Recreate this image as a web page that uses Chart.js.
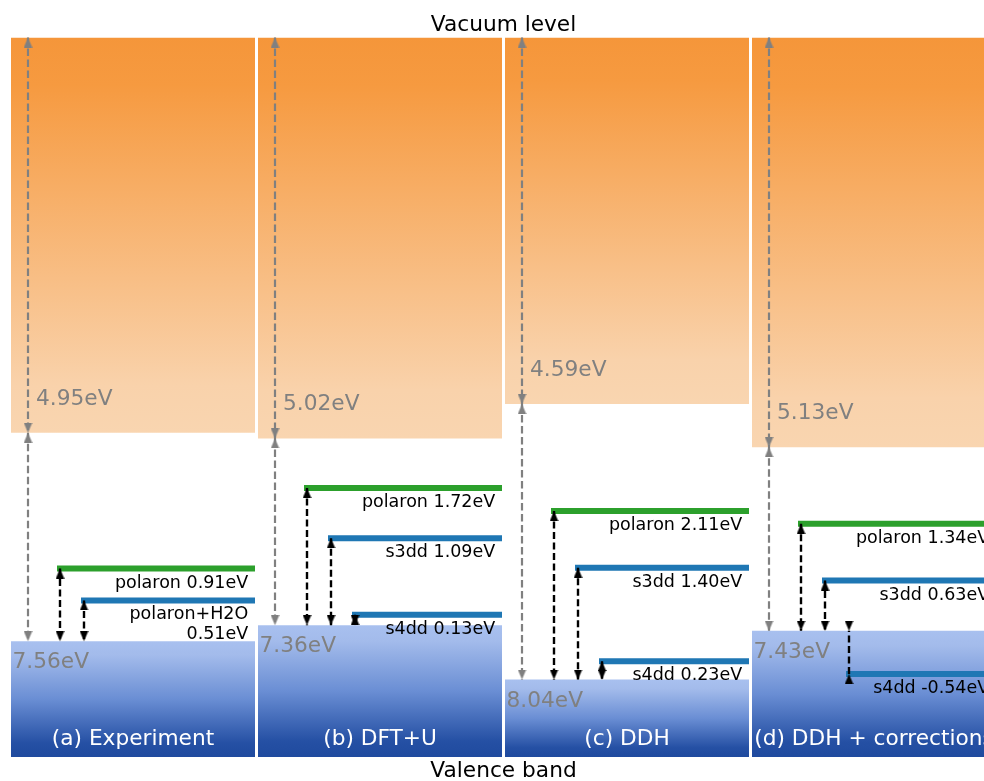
<!DOCTYPE html>
<html>
<head>
<meta charset="utf-8">
<script src="https://cdn.jsdelivr.net/npm/chart.js@4.4.1/dist/chart.umd.min.js"></script>
<style>
  html, body { margin: 0; padding: 0; background: #fff; overflow: hidden; }
  #wrap { width: 984px; height: 781px; }
</style>
</head>
<body>
<div id="wrap"><canvas id="levels"></canvas></div>
<script>
// energies in eV below the vacuum level
const panels = ['(a) Experiment', '(b) DFT+U', '(c) DDH', '(d) DDH + corrections'];
const cbGap = [4.95, 5.02, 4.59, 5.13];     // vacuum -> conduction band edge
const vbDepth = [7.56, 7.36, 8.04, 7.43];   // vacuum -> valence band top
// defect levels, measured up from the valence band top
const polaron = [0.91, 1.72, 2.11, 1.34];
const secondName = ['polaron+H2O', 's3dd', 's3dd', 's3dd'];
const secondLevel = [0.51, 1.09, 1.40, 0.63];
const s4dd = [null, 0.13, 0.23, -0.54];

const yMax = 9.01;
const unit = 247;                 // px per panel slot
const panelW = 244 / unit;
const xMax = 973 / unit;
const grayX = 17 / unit;
const lineStart = [46 / unit, 70 / unit, 94 / unit];
const arrowX = [49 / unit, 73 / unit, 97 / unit];
const idx = [0, 1, 2, 3];

function vGrad(chart, v0, v1, stops) {
  const y = chart.scales.y;
  const p0 = y && y.getPixelForValue(v0), p1 = y && y.getPixelForValue(v1);
  if (!chart.chartArea || !isFinite(p0) || !isFinite(p1)) return stops[0][1];
  const g = chart.ctx.createLinearGradient(0, p0, 0, p1);
  stops.forEach(([o, c]) => g.addColorStop(o, c));
  return g;
}

function head(color) {
  const w = 8.5, h = 10;
  const c = document.createElement('canvas');
  c.width = 9; c.height = 2 * h;
  const g = c.getContext('2d');
  g.fillStyle = color;
  g.beginPath();
  g.moveTo(4.5, h); g.lineTo(4.5 + w / 2, 2 * h); g.lineTo(4.5 - w / 2, 2 * h);
  g.closePath(); g.fill();
  return c;
}

// level segments
function levelPoints(lists) {
  const pts = [];
  lists.forEach(([list, k]) => idx.forEach(i => {
    if (list[i] == null) return;
    const y = vbDepth[i] - list[i];
    pts.push({x: i + lineStart[k], y}, {x: i + panelW, y}, {x: i + panelW, y: null});
  }));
  return pts;
}

// arrows: r = rotation of the head at that end
const grayPts = [];
idx.forEach(i => {
  const x = i + grayX;
  grayPts.push({x, y: 0, r: 0}, {x, y: cbGap[i], r: 180}, {x, y: null},
               {x, y: cbGap[i], r: 0}, {x, y: vbDepth[i], r: 180}, {x, y: null});
});
const blackPts = [];
[polaron, secondLevel, s4dd].forEach((list, k) => idx.forEach(i => {
  if (list[i] == null) return;
  const x = i + arrowX[k];
  blackPts.push({x, y: vbDepth[i] - list[i], r: 0}, {x, y: vbDepth[i], r: 180}, {x, y: null});
}));

const textPlugin = {
  id: 'bandText',
  afterDatasetsDraw(chart) {
    const {ctx, chartArea} = chart;
    const x = chart.scales.x, y = chart.scales.y;
    const big = '21.7px "DejaVu Sans"', small = '17.5px "DejaVu Sans"';
    ctx.save();
    ctx.textBaseline = 'alphabetic';
    ctx.font = big;
    ctx.fillStyle = '#000';
    ctx.textAlign = 'center';
    const mid = x.getPixelForValue(2 - (1 - panelW) / 2);
    ctx.fillText('Vacuum level', mid, chartArea.top - 7);
    ctx.fillText('Valence band', mid, chartArea.bottom + 20);

    idx.forEach(i => {
      const left = x.getPixelForValue(i), right = x.getPixelForValue(i + panelW);
      ctx.font = big;
      ctx.fillStyle = '#808080';
      ctx.textAlign = 'left';
      ctx.fillText(cbGap[i].toFixed(2) + 'eV', left + 25, y.getPixelForValue(cbGap[i]) - 28);
      ctx.fillText(vbDepth[i].toFixed(2) + 'eV', left + 1.5, y.getPixelForValue(vbDepth[i]) + 27);

      ctx.fillStyle = '#fff';
      ctx.textAlign = 'center';
      ctx.fillText(panels[i], (left + right) / 2, chartArea.bottom - 12);

      ctx.font = small;
      ctx.fillStyle = '#000';
      ctx.textAlign = 'right';
      [['polaron', polaron[i]], [secondName[i], secondLevel[i]], ['s4dd', s4dd[i]]].forEach(([name, v]) => {
        if (v == null) return;
        const py = y.getPixelForValue(vbDepth[i] - v);
        const val = v.toFixed(2) + 'eV';
        const lines = name.includes('+') ? [name, val] : [name + ' ' + val];
        lines.forEach((t, n) => ctx.fillText(t, right - 6.8, py + 19 + n * 20));
      });
    });
    ctx.restore();
  }
};

const orangeStops = [[0, '#f5963a'], [0.12, '#f69a40'], [0.88, '#f9d2ab'], [1, '#f9d5b0']];
const blueStops = [[0, '#a8c0ef'], [0.12, '#a3bbeb'], [0.5, '#6a8ed4'], [0.88, '#2550a4'], [1, '#1f4a9e']];

new Chart(document.getElementById('levels'), {
  type: 'bar',
  data: {
    datasets: [
      {
        label: 'conduction band',
        data: idx.map(i => ({x: i + panelW / 2, y: [0, cbGap[i]]})),
        backgroundColor: c => vGrad(c.chart, 0, cbGap[c.dataIndex], orangeStops),
        grouped: false, barPercentage: panelW, categoryPercentage: 1,
        borderWidth: 0, inflateAmount: 0, order: 5
      },
      {
        label: 'valence band',
        data: idx.map(i => ({x: i + panelW / 2, y: [vbDepth[i], yMax]})),
        backgroundColor: c => vGrad(c.chart, vbDepth[c.dataIndex], yMax, blueStops),
        grouped: false, barPercentage: panelW, categoryPercentage: 1,
        borderWidth: 0, inflateAmount: 0, order: 5
      },
      {
        type: 'line', label: 'polaron',
        data: levelPoints([[polaron, 0]]),
        borderColor: '#2ca02c', borderWidth: 6, borderCapStyle: 'butt',
        pointRadius: 0, spanGaps: false, order: 3
      },
      {
        type: 'line', label: 'other levels',
        data: levelPoints([[secondLevel, 1], [s4dd, 2]]),
        borderColor: '#1f77b4', borderWidth: 6, borderCapStyle: 'butt',
        pointRadius: 0, spanGaps: false, order: 3
      },
      {
        type: 'line', label: 'gaps',
        data: grayPts,
        borderColor: '#808080', borderWidth: 2.2, borderDash: [7.5, 3.5],
        pointStyle: head('#808080'), pointRadius: 5,
        pointRotation: c => (c.raw && c.raw.r) || 0,
        spanGaps: false, clip: false, order: 2
      },
      {
        type: 'line', label: 'transitions',
        data: blackPts,
        borderColor: '#000', borderWidth: 2.4, borderDash: [7, 3.5],
        pointStyle: head('#000'), pointRadius: 5,
        pointRotation: c => (c.raw && c.raw.r) || 0,
        spanGaps: false, clip: false, order: 1
      }
    ]
  },
  options: {
    responsive: true,
    maintainAspectRatio: false,
    animation: false,
    events: [],
    layout: { autoPadding: false, padding: { left: 11, top: 37.5, right: 0, bottom: 24 } },
    plugins: { legend: { display: false }, tooltip: { enabled: false } },
    scales: {
      x: { type: 'linear', min: 0, max: xMax, offset: false, display: false,
           grid: { offset: false }, ticks: { stepSize: 10 } },
      y: { type: 'linear', min: 0, max: yMax, reverse: true, display: false }
    }
  },
  plugins: [textPlugin]
});
</script>
</body>
</html>
